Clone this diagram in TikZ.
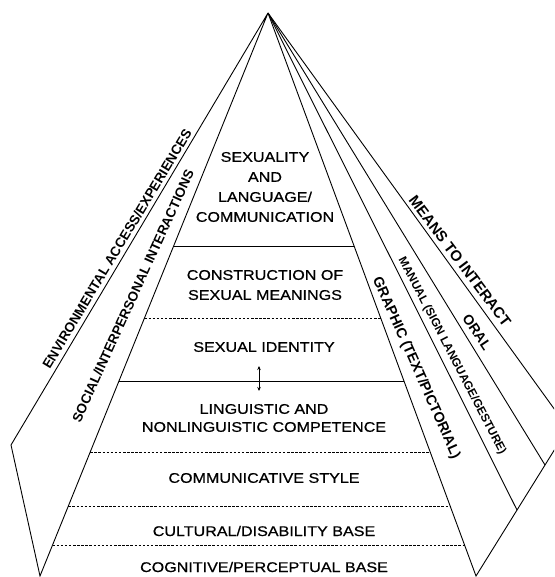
\documentclass[tikz,border=0pt]{standalone}
\usepackage{fontspec}
\setmainfont{Liberation Sans}
\newfontfamily\layerfont[FakeStretch=1.15,FakeBold=0.7]{Liberation Sans}
\newfontfamily\sidefont{Liberation Sans}
\usetikzlibrary{calc,arrows.meta}
\begin{document}
\begin{tikzpicture}[x=1pt,y=-1pt,
  edge/.style={line width=0.9pt, line join=miter},
  sep/.style={line width=0.8pt},
  dsep/.style={line width=0.7pt, dash pattern=on 2.5pt off 1.6pt},
  layer/.style={font=\layerfont\fontsize{14}{20}\selectfont, align=center, inner sep=0pt},
  side/.style={font=\sidefont\bfseries\fontsize{13.5}{13.5}\selectfont, inner sep=0pt}
]
\useasboundingbox (0,0) rectangle (554,577);
\clip (0,0) rectangle (554,577);
% key points
\coordinate (apex) at (268,13);
\coordinate (lc) at (11,445);
\coordinate (bl) at (40,576);
\coordinate (br) at (476,576);
\coordinate (r1) at (568,428);
\coordinate (r2) at (545,465);
\coordinate (r3) at (517,510);
% outline
\draw[edge] (apex) -- (lc) -- (bl) -- (apex);
\draw[edge] (apex) -- (br) -- (r1) -- (apex);
\draw[edge] (apex) -- (r2);
\draw[edge] (apex) -- (r3);
% layer separators
\draw[sep]  ($(apex)!0.4139!(bl)$) -- ($(apex)!0.4139!(br)$);
\draw[dsep] ($(apex)!0.5417!(bl)$) -- ($(apex)!0.5417!(br)$);
\draw[sep]  ($(apex)!0.6536!(bl)$) -- ($(apex)!0.6536!(br)$);
\draw[dsep] ($(apex)!0.7797!(bl)$) -- ($(apex)!0.7797!(br)$);
\draw[dsep] ($(apex)!0.8757!(bl)$) -- ($(apex)!0.8757!(br)$);
\draw[dsep] ($(apex)!0.9449!(bl)$) -- ($(apex)!0.9449!(br)$);
% arrow
\coordinate (aT) at (259,366);
\coordinate (aB) at (259,391);
\draw[line width=0.8pt, {Stealth[length=4pt,width=3.5pt]}-{Stealth[length=4pt,width=3.5pt]}] (aT) -- (aB);
% layer labels
\node[layer] (l1) at (265,187) {SEXUALITY\\AND\\LANGUAGE/\\COMMUNICATION};
\node[layer] (l2) at (265,285) {CONSTRUCTION OF\\SEXUAL MEANINGS};
\node[layer] (l3) at (264,347) {SEXUAL IDENTITY};
\node[layer, font=\layerfont\fontsize{14}{18}\selectfont] (l4) at (264,418) {LINGUISTIC AND\\NONLINGUISTIC COMPETENCE};
\node[layer] (l5) at (264,478) {COMMUNICATIVE STYLE};
\node[layer] (l6) at (264,531) {CULTURAL/DISABILITY BASE};
\node[layer] (l7) at (264,567) {COGNITIVE/PERCEPTUAL BASE};
% side labels
\node[side, rotate=59] (env) at (117,249) {ENVIRONMENTAL ACCESS/EXPERIENCES};
\node[side, rotate=65.5] (soc) at (133,296) {SOCIAL/INTERPERSONAL INTERACTIONS};
\node[side, font=\sidefont\bfseries\fontsize{15}{15}\selectfont, rotate=-53] (means) at (460,261) {MEANS TO INTERACT};
\node[side, font=\sidefont\bfseries\fontsize{14}{14}\selectfont, rotate=-56] (oral) at (477,332) {ORAL};
\node[side, font=\sidefont\bfseries\fontsize{11.7}{11.7}\selectfont, rotate=-62.5] (man) at (452,356) {MANUAL (SIGN LANGUAGE/GESTURE)};
\node[side, font=\sidefont\bfseries\fontsize{14.3}{14.3}\selectfont, rotate=-66] (gra) at (416,368) {GRAPHIC (TEXT/PICTORIAL)};
\end{tikzpicture}
\end{document}
